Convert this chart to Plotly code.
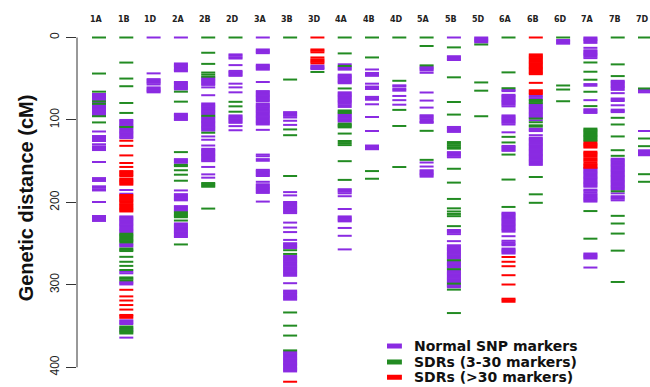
import plotly.graph_objects as go

# Chromosomes in map order
CHROMOSOMES = ["1A", "1B", "1D", "2A", "2B", "2D", "3A", "3B", "3D", "4A", "4B",
               "4D", "5A", "5B", "5D", "6A", "6B", "6D", "7A", "7B", "7D"]

# Marker positions (cM) of normal SNP markers
NORMAL_SNP = {
    "1A": [68.5, 70, 71.5, 73, 74.5, 76, 79, 82, 83.5, 85, 86.5, 88, 89.5, 91, 92.5, 94,
           114, 119.5, 121, 122.5, 124, 125.5, 129.5, 132, 133.5, 135, 136.5, 151,
           170.5, 172, 174, 180.5, 182, 184, 185.5, 199.5, 216.5, 218, 219.5, 221, 222.5],
    "1B": [100, 101.5, 103, 104.5, 106, 107.5, 110, 111.5, 113, 114.5, 116, 117.5, 119,
           120.5, 122, 185, 189.5, 217, 218.5, 220, 221.5, 223, 224.5, 226, 227.5, 229,
           230.5, 232, 233.5, 235, 236.5, 250.5, 252, 253.5, 284, 286, 296.5, 298, 299.5,
           343, 344.5, 346, 347.5, 355, 364],
    "1D": [0, 43.5, 50.5, 52, 53.5, 55, 57, 60.5, 62, 63.5, 65, 66.5],
    "2A": [0, 31.5, 33, 34.5, 36, 38, 39.5, 41, 54, 55.5, 57, 58.5, 60, 61.5, 63, 92.5,
           94, 95.5, 97, 98.5, 100, 147.5, 149, 150.5, 152, 185.5, 190, 191.5, 193,
           194.5, 196, 197.5, 204.5, 206, 207.5, 209, 210.5, 225.5, 227, 228.5, 230,
           231.5, 233, 234.5, 236, 237.5, 239, 240.5, 242],
    "2B": [48.5, 50, 51.5, 53, 54.5, 56, 57.5, 60.5, 70, 80, 81.5, 83, 84.5, 86, 87.5,
           89, 90.5, 92, 93.5, 96.5, 98, 99.5, 101, 102.5, 104, 105.5, 107, 108.5, 110,
           111.5, 113, 120, 124, 131, 135, 136.5, 138, 139.5, 141, 142.5, 144, 145.5,
           147, 148.5, 150, 157, 166, 170],
    "2D": [20.5, 22, 24, 25.5, 33.5, 40.5, 42, 43.5, 45, 46.5, 56, 60.5, 66.5, 94.5, 96,
           97.5, 99, 100.5, 102, 103.5, 107.5, 112.5],
    "3A": [0, 14.5, 16, 17.5, 19, 33, 34.5, 36, 37.5, 39, 54, 65, 66.5, 68, 69.5, 71,
           72.5, 74, 75.5, 77, 80, 81.5, 83, 84.5, 86, 87.5, 89, 90.5, 92, 93.5, 95,
           96.5, 98, 99.5, 101, 102.5, 104, 105.5, 112, 142, 144, 147.5, 149.5, 160.5,
           162, 163.5, 165, 166.5, 168, 175, 178, 179.5, 181, 182.5, 184, 185.5, 187,
           188.5, 199],
    "3B": [90.5, 92, 93.5, 95, 97, 101, 106, 187.5, 191.5, 199.5, 201, 202.5, 204, 205.5,
           207, 208.5, 210, 211.5, 213, 224.5, 230.5, 236, 245.5, 249.5, 251, 252.5, 254,
           255.5, 265, 266.5, 268, 269.5, 271, 272.5, 274, 275.5, 277, 278.5, 280, 281.5,
           283, 284.5, 286, 287.5, 289, 298, 307, 308.5, 310, 311.5, 313.5, 315, 316.5,
           318, 381, 382.5, 384, 385.5, 387, 388.5, 390, 391.5, 393, 394.5, 396, 397.5,
           399, 400.5, 402, 403.5, 405],
    "3D": [34, 35.5, 37, 38.3],
    "4A": [32.5, 36, 37.5, 39, 45, 46.5, 48, 49.5, 51, 52.5, 54, 55.5, 66.5, 68, 69.5, 71,
           72.5, 74, 75.5, 77, 78.5, 80, 82, 84.2, 93, 94.5, 96, 97.5, 99, 100.5, 102,
           184, 185.5, 187, 189, 192.5, 208, 217, 218.5, 220, 221.5, 223, 231, 240.5, 257],
    "4B": [38.8, 43, 44.5, 46.5, 56, 59.5, 61, 62.5, 72, 73.5, 75.5, 81, 96.4, 113.4, 131,
           132.5, 134, 135.5],
    "4D": [58, 59.5, 62.5, 64.5, 70.9, 76, 81.5],
    "5A": [35.5, 37, 38.5, 40, 42.8, 66.7, 76.5, 85, 94.3, 95.8, 97.3, 99, 101, 102.5,
           103.5, 151.6, 156.5, 161, 162.5, 164, 165.5, 167, 168.8],
    "5B": [0, 22.7, 24.2, 25.8, 27.3, 108.5, 110, 111.5, 113, 114.5, 139, 140.5, 142,
           143.5, 145.3, 233.5, 235, 236.5, 238.5, 247, 252, 253.5, 255, 256.5, 258,
           259.5, 261, 262.5, 264, 265.5, 267, 268.5, 271.8, 273.3, 274.8, 276.3, 277.8,
           279.3, 282.5, 284, 285.5, 287, 288.5, 290, 291.5, 293, 294.5, 296, 297, 300,
           301.5, 303],
    "5D": [0, 1.5, 3, 4.5, 6],
    "6A": [63.5, 65, 69.5, 71, 72.5, 74, 75.5, 77, 78.5, 80, 81.5, 83.5, 94.5, 96, 97.5,
           99, 100.5, 102, 103.5, 105.5, 115, 131.5, 133, 134.5, 136, 137.5, 212.5, 214,
           215.5, 217, 218.5, 220, 221.5, 223, 224.5, 226, 227.5, 229, 230.5, 232, 233.5,
           235.5, 241, 246.5, 248.5, 250.5, 252, 256, 257.5, 259, 260.5, 262],
    "6B": [70.5, 72, 74, 81, 82.5, 84, 85.5, 87, 88.5, 90, 91.5, 93, 94.5, 96, 97.5,
           100.5, 110.5, 112, 113.5, 118.5, 121.5, 123, 124.5, 126, 127.5, 129, 130.5,
           132, 133.5, 135, 136.5, 138, 139.5, 141, 142.5, 144, 145.5, 147, 148.5, 150,
           151.5, 153, 154.5],
    "6D": [3, 4.5, 6, 7.5],
    "7A": [0, 1.5, 3, 4.5, 6.5, 12.5, 15.5, 17, 18.5, 20, 21.5, 23, 25, 56.5, 58.5, 76,
           87, 88.5, 90, 91.5, 158.5, 160, 161.5, 163, 164.5, 166, 167.5, 169, 170.5,
           172, 173.5, 175, 176.5, 178, 179.5, 181, 184.5, 186, 188, 190, 191.5, 193,
           194.5, 196, 197.5, 199, 262, 263.5, 265, 266.5, 268, 279],
    "7B": [52.5, 54, 55.5, 57, 58.5, 60, 61.5, 63.5, 67.5, 74, 75.5, 77, 82.2, 87.5, 89,
           90.5, 147, 148.5, 150, 151.5, 153, 154.5, 156, 157.5, 159, 160.5, 162, 163.5,
           165, 166.5, 168, 169.5, 171, 172.5, 174, 175.5, 177, 178.5, 180, 181.5, 183,
           184.5, 189, 192.5, 194, 195.5, 197.5],
    "7D": [63.3, 64.8, 66.5, 113.4, 136.8, 138.3, 139.8, 141.3, 142.8],
}

# Marker positions (cM) in segregation distortion regions of 3-30 markers
SDR_3_30 = {
    "1A": [0, 43.7, 65.7, 77.5, 80.5, 95.5, 103],
    "1B": [0, 30.4, 49.8, 59.1, 79.4, 91.5, 108.5, 238, 239.5, 241, 242.5, 244, 245.5,
           247, 248.5, 256, 257.5, 259, 266, 272, 277, 282, 291, 292.5, 294.5, 350.5,
           352, 353.5, 356, 357.5, 359],
    "2A": [65.7, 77.8, 139, 154.5, 156, 161, 166.4, 173.7, 212, 213.5, 215, 216.5, 218,
           222, 251],
    "2B": [0, 18.5, 32, 42.5, 45, 47.5, 95, 115.5, 176.5, 178, 179.5, 181, 207.5],
    "2D": [0, 78, 83.5, 90],
    "3B": [0, 51, 111.5, 118.5, 168, 258, 262.5, 333.5, 349.5, 361.5, 379.5],
    "3D": [41.8],
    "4A": [0, 19.3, 34.5, 61.8, 88.5, 90, 91.5, 104.5, 106, 107.5, 109, 116.5, 125.5,
           128, 130.5, 150, 172.7],
    "4B": [0, 24.2, 162, 171.3],
    "4D": [0, 52.5, 87.8, 107.3, 157.1],
    "5A": [0, 10.3, 33.8, 113.2, 148.4],
    "5B": [12, 48.3, 78.2, 93.5, 126.8, 129, 131, 133, 134.8, 159.2, 176, 195.8, 207.2,
           211, 214, 216.7, 228.8, 270.2, 281, 298.5, 305.8, 334.2],
    "5D": [8.5, 54.5, 64.5, 95.5],
    "6A": [0, 42.3, 61.5, 120.5, 127.3, 142, 172.3, 205.5],
    "6B": [75.8, 77.5, 79.5, 98.3, 102.8, 106.5, 108, 169.2, 190.2, 200.5],
    "6D": [0, 58.2, 63.1, 77.3],
    "7A": [30.3, 41.5, 51.2, 65.8, 83.2, 110.5, 112, 113.5, 115, 116.5, 118, 119.5, 121,
           122.5, 124, 125.5, 210.5, 244],
    "7B": [0, 32.6, 46.8, 97.4, 105.5, 120, 136.7, 143.5, 186.5, 216.3, 225.6, 237.8,
           258.5, 296.5],
    "7D": [0, 61.8, 122.5, 131.8, 165.8, 175],
}

# Marker positions (cM) in segregation distortion regions of more than 30 markers
SDR_OVER_30 = {
    "1B": [125.2, 131.4, 143, 152.2, 157, 162, 163.5, 165, 166.5, 168, 171, 172.5, 174,
           175.5, 177, 178.5, 191, 192.5, 194, 195.5, 197, 198.5, 200, 202, 203.5, 205,
           206.5, 208, 209.5, 211, 306, 314, 319, 324.5, 330, 336.5, 338, 340],
    "3B": [417.5],
    "3D": [0, 14.5, 16, 18, 24.2, 26.5, 28, 29.5, 31.3],
    "6A": [266.2, 272, 277.4, 288.3, 299.6, 316.8, 318.5, 320.5],
    "6B": [0, 20.5, 22, 23.5, 25, 26.5, 28, 29.5, 31, 32.5, 34, 35.5, 37, 38.5, 40, 41.5,
           43, 44.5, 55, 64, 65.5, 67, 68.5],
    "7A": [127.5, 129, 130.5, 132, 133.5, 138.5, 140, 141.5, 143, 144.5, 146.5, 148,
           149.5, 151.5, 153.5, 155, 156.5, 158],
}

Y_TICKS = [0, 100, 200, 300, 400]

SERIES = [
    ("Normal SNP markers", NORMAL_SNP, "#8A2BE2"),
    ("SDRs (3-30 markers)", SDR_3_30, "#228B22"),
    ("SDRs (>30 markers)", SDR_OVER_30, "#FF0000"),
]

fig = go.Figure()
for name, data, color in SERIES:
    xs, ys = [], []
    for i, chrom in enumerate(CHROMOSOMES):
        for pos in data.get(chrom, []):
            xs.append(i)
            ys.append(pos)
    fig.add_trace(go.Scatter(
        x=xs, y=ys, mode="markers", name=name, showlegend=False,
        cliponaxis=False, hoverinfo="skip",
        marker=dict(symbol="line-ew", size=10, color=color,
                    line=dict(color=color, width=2)),
    ))

# Chromosome names above each column
for i, chrom in enumerate(CHROMOSOMES):
    fig.add_annotation(xref="x", yref="paper", x=i - 0.1, y=1.028, text=chrom,
                       showarrow=False, xanchor="center", yanchor="middle",
                       font=dict(family="DejaVu Sans", size=8, color="#222222",
                                 weight="bold"))

# Left axis line spanning only the labelled ticks
fig.add_shape(type="line", xref="paper", yref="y", x0=0, x1=0,
              y0=Y_TICKS[0], y1=Y_TICKS[-1], line=dict(color="#333333", width=1))

# Legend: colour swatches with bold labels
legend_y = [0.107, 0.062, 0.019]
for (name, _, color), ly in zip(SERIES, legend_y):
    fig.add_shape(type="line", xref="paper", yref="paper", x0=0.542, x1=0.568,
                  y0=ly, y1=ly, line=dict(color=color, width=5))
    fig.add_annotation(xref="paper", yref="paper", x=0.585, y=ly, text=name,
                       showarrow=False, xanchor="left", yanchor="middle",
                       font=dict(family="DejaVu Sans", size=14, color="#111111",
                                 weight="bold"))

fig.add_annotation(xref="paper", yref="y", x=-0.089, y=195,
                   text="Genetic distance (cM)", textangle=-90, showarrow=False,
                   xanchor="center", yanchor="middle",
                   font=dict(family="Liberation Sans", size=20, color="#111111",
                             weight="bold"))

fig.update_layout(
    width=650, height=387,
    margin=dict(l=77, r=1, t=29, b=3),
    paper_bgcolor="white", plot_bgcolor="white",
    xaxis=dict(range=[-0.806, 20.146], showgrid=False, zeroline=False,
               showline=False, showticklabels=False, ticks=""),
    yaxis=dict(range=[420.25, -10.31], showgrid=False, zeroline=False, showline=False,
               tickmode="array", tickvals=Y_TICKS, ticks="outside", ticklen=10,
               tickwidth=1, tickcolor="#333333", tickangle=-90,
               ticklabelstandoff=2,
               tickfont=dict(family="Liberation Sans", size=12, color="#222222")),
)

fig.write_html("out.html")
